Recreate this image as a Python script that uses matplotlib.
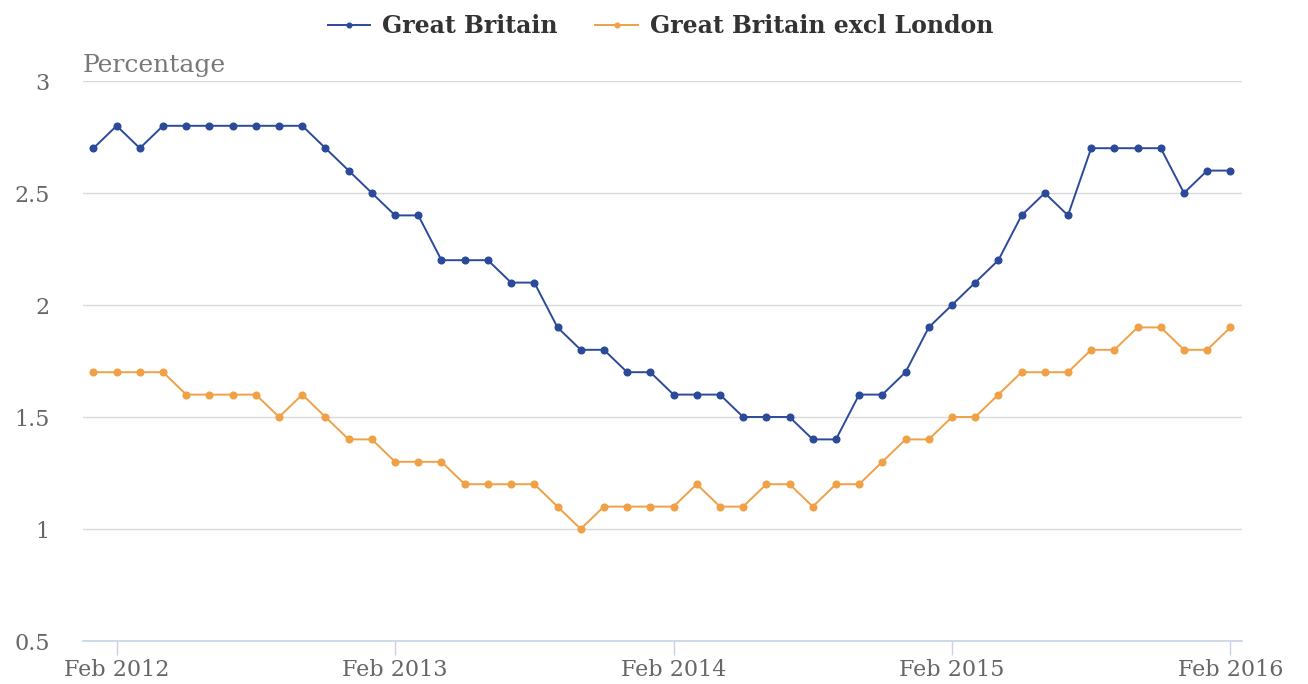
import matplotlib.pyplot as plt

# monthly values, Jan 2012 .. Feb 2016
gb = [2.7, 2.8, 2.7, 2.8, 2.8, 2.8, 2.8, 2.8, 2.8, 2.8,
      2.7, 2.6, 2.5, 2.4, 2.4, 2.2, 2.2, 2.2, 2.1, 2.1,
      1.9, 1.8, 1.8, 1.7, 1.7, 1.6, 1.6, 1.6, 1.5, 1.5,
      1.5, 1.4, 1.4, 1.6, 1.6, 1.7, 1.9, 2.0, 2.1, 2.2,
      2.4, 2.5, 2.4, 2.7, 2.7, 2.7, 2.7, 2.5, 2.6, 2.6]
gb_excl_london = [1.7, 1.7, 1.7, 1.7, 1.6, 1.6, 1.6, 1.6, 1.5, 1.6,
                  1.5, 1.4, 1.4, 1.3, 1.3, 1.3, 1.2, 1.2, 1.2, 1.2,
                  1.1, 1.0, 1.1, 1.1, 1.1, 1.1, 1.2, 1.1, 1.1, 1.2,
                  1.2, 1.1, 1.2, 1.2, 1.3, 1.4, 1.4, 1.5, 1.5, 1.6,
                  1.7, 1.7, 1.7, 1.8, 1.8, 1.9, 1.9, 1.8, 1.8, 1.9]
tick_pos = [1, 13, 25, 37, 49]
tick_labels = ["Feb 2012", "Feb 2013", "Feb 2014", "Feb 2015", "Feb 2016"]
y_ticks = [0.5, 1, 1.5, 2, 2.5, 3]
y_labels = ["0.5", "1", "1.5", "2", "2.5", "3"]

plt.rcParams['font.family'] = ['DejaVu Serif']

fig = plt.figure(figsize=(13.08, 6.84), dpi=100)
ax = fig.add_axes([83 / 1308, 1 - 641 / 684, (1242 - 83) / 1308, (641 - 81) / 684])

x = list(range(len(gb)))
blue = "#2b4a99"
orange = "#f0a045"
ax.plot(x, gb, color=blue, lw=1.4, marker="o", ms=4.8, label="Great Britain")
ax.plot(x, gb_excl_london, color=orange, lw=1.4, marker="o", ms=4.8,
        label="Great Britain excl London")

ax.set_xlim(-0.45, 49.5)
ax.set_ylim(0.5, 3)
ax.set_yticks(y_ticks)
ax.set_yticklabels(y_labels)
ax.set_xticks(tick_pos)
ax.set_xticklabels(tick_labels)

for s in ["top", "right", "left"]:
    ax.spines[s].set_visible(False)
ax.spines["bottom"].set_color("#c8d2e6")
ax.spines["bottom"].set_linewidth(1.2)
ax.yaxis.grid(True, color="#d9d9d9", lw=1)
ax.set_axisbelow(True)
ax.tick_params(axis="y", length=0, pad=24, labelsize=16, labelcolor="#666666")
ax.tick_params(axis="x", length=10, width=1, color="#c8d2e6", pad=3,
               labelsize=16, labelcolor="#666666")

ax.text(0, 1.008, "Percentage", transform=ax.transAxes, ha="left", va="bottom",
        fontsize=18, color="#777777")

fig.legend(loc="upper center", bbox_to_anchor=(0.505, 1.01), ncol=2, frameon=False,
           prop={"weight": "bold", "size": 17}, labelcolor="#333333",
           handlelength=1.8, handletextpad=0.5, columnspacing=1.6, markerscale=0.7)

fig.savefig("out.png", dpi=100)
